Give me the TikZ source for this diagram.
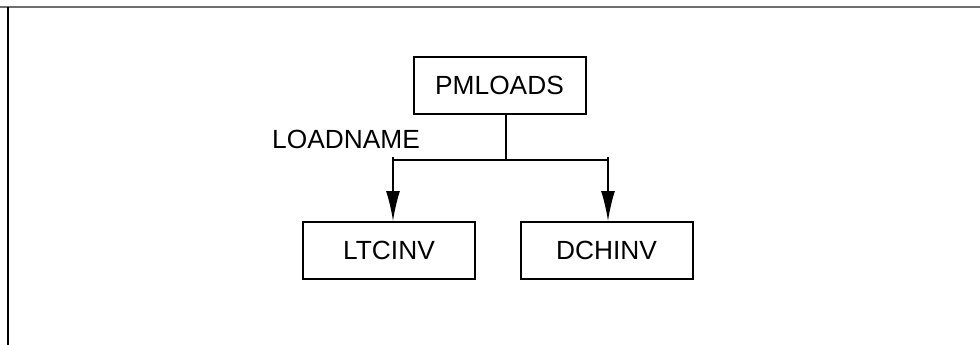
\documentclass[tikz,border=0pt]{standalone}
\usepackage{fontspec}
\setmainfont{Liberation Sans}
\usepackage{xcolor}
\definecolor{framegray}{RGB}{110,110,110}
\usetikzlibrary{arrows.meta,calc}
\newcommand{\labelfont}{\fontsize{26.3}{31}\selectfont}

\begin{document}
\begin{tikzpicture}[x=1pt,y=-1pt,>={Latex[length=30pt,width=14pt]},line width=1.5pt,
  loadbox/.style={draw,line width=2pt,minimum width=172pt,minimum height=57pt,inner sep=0pt,font=\labelfont}]
\useasboundingbox (0,0) rectangle (980,345);
\coordinate (TL) at (8,7); \coordinate (TR) at (980,7); \coordinate (BL) at (8,345);
\draw[framegray,line width=2pt] (0,7)--(TR);
\draw[line width=1.8pt] (TL)--(BL);
\node[loadbox] (pm) at (499.5,85.5) {PMLOADS};
\node[loadbox] (ltc) at (389,250.5) {LTCINV};
\node[loadbox] (dch) at (606.5,250.5) {DCHINV};
\coordinate (fork) at (506,160); \coordinate (forkL) at (393,160); \coordinate (forkR) at (608,160);
\draw (pm.south -| fork)--(fork);
\draw (forkL)--(forkR);
\draw[->] ($(forkL)+(0,-3)$)--(forkL |- ltc.north);
\draw[->] ($(forkR)+(0,-3)$)--(forkR |- dch.north);
\node[font=\labelfont,inner sep=0pt] (lname) at (346,139.5) {LOADNAME};
\end{tikzpicture}
\end{document}
